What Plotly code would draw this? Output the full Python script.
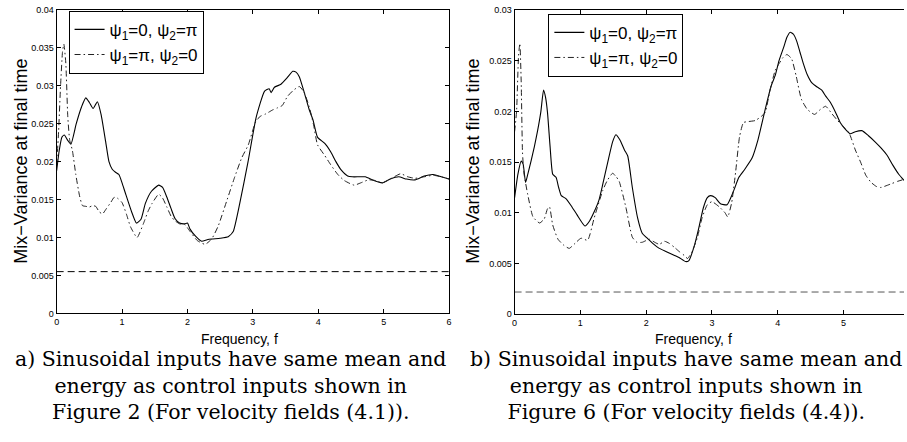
import plotly.graph_objects as go

# ---------------- data ----------------
# Panel a) velocity fields (4.1)
a_solid_f = [0.0, 0.04, 0.08, 0.117, 0.17, 0.218, 0.3, 0.38, 0.445, 0.5, 0.557, 0.623, 0.68, 0.75, 0.8,
             0.85, 0.9, 0.952, 1.0, 1.053, 1.15, 1.22, 1.29, 1.357, 1.45, 1.56, 1.62, 1.686, 1.75, 1.81,
             1.88, 1.96, 2.0, 2.04, 2.12, 2.218, 2.3, 2.37, 2.5, 2.624, 2.7, 2.8, 2.927, 3.05, 3.18,
             3.25, 3.28, 3.33, 3.43, 3.52, 3.61, 3.66, 3.71, 3.78, 3.86, 3.92, 3.99, 4.1, 4.19, 4.27,
             4.35, 4.45, 4.52, 4.62, 4.72, 4.85, 4.98, 5.1, 5.23, 5.35, 5.48, 5.62, 5.76, 5.88, 6.0]
a_solid_v = [0.0188, 0.0215, 0.0232, 0.0235, 0.0228, 0.0223, 0.0250, 0.0272, 0.0284, 0.0278, 0.0270, 0.0279,
             0.0262, 0.0226, 0.0200, 0.0190, 0.0186, 0.0183, 0.0172, 0.0158, 0.0133, 0.0119, 0.0124, 0.0145,
             0.0161, 0.0169, 0.0166, 0.0153, 0.0138, 0.0125, 0.0119, 0.0118, 0.0119, 0.0111, 0.0102, 0.0095,
             0.0097, 0.0098, 0.0099, 0.0101, 0.0108, 0.0145, 0.0200, 0.0258, 0.0293, 0.0296, 0.0291, 0.0298,
             0.0302, 0.0310, 0.0319, 0.0318, 0.0312, 0.0293, 0.0269, 0.0255, 0.0232, 0.0224, 0.0213, 0.0200,
             0.0189, 0.0181, 0.0180, 0.0180, 0.0180, 0.0175, 0.0172, 0.0177, 0.0180, 0.0177, 0.0176, 0.0181,
             0.0183, 0.0180, 0.0177]

a_dash_f = [0.0, 0.03, 0.06, 0.09, 0.11, 0.14, 0.17, 0.2, 0.24, 0.293, 0.35, 0.395, 0.45, 0.497, 0.55,
            0.598, 0.65, 0.70, 0.76, 0.826, 0.88, 0.927, 1.0, 1.07, 1.13, 1.23, 1.33, 1.4, 1.46, 1.56,
            1.62, 1.686, 1.75, 1.81, 1.88, 1.96, 2.04, 2.15, 2.27, 2.37, 2.47, 2.6, 2.72, 2.83, 2.93,
            3.05, 3.12, 3.2, 3.3, 3.38, 3.45, 3.53, 3.62, 3.71, 3.78, 3.86, 3.93, 3.99, 4.1, 4.19,
            4.3, 4.4, 4.55, 4.65, 4.77, 4.88, 4.98, 5.1, 5.26, 5.37, 5.48, 5.62, 5.76, 5.88, 6.0]
a_dash_v = [0.0195, 0.0240, 0.0300, 0.0345, 0.0355, 0.0330, 0.0260, 0.0228, 0.0215, 0.0183, 0.0155, 0.0142,
            0.0141, 0.0140, 0.0142, 0.0141, 0.0134, 0.0131, 0.0138, 0.0146, 0.0153, 0.0152, 0.0146, 0.0130,
            0.0114, 0.0100, 0.0119, 0.0135, 0.0145, 0.0157, 0.0152, 0.0140, 0.0128, 0.0122, 0.0118, 0.0117,
            0.0108, 0.0096, 0.0091, 0.0098, 0.0115, 0.0148, 0.0179, 0.0205, 0.0222, 0.0254, 0.0260, 0.0263,
            0.0268, 0.0271, 0.0274, 0.0286, 0.0294, 0.0299, 0.0292, 0.0273, 0.0248, 0.0222, 0.0208, 0.0196,
            0.0183, 0.0175, 0.0169, 0.0172, 0.0176, 0.0175, 0.0172, 0.0177, 0.0184, 0.0180, 0.0178, 0.0180,
            0.0182, 0.0180, 0.0177]

a_base_f = [0.0, 6.0]
a_base_v = [0.0055, 0.0055]

# Panel b) velocity fields (4.4)
b_solid_f = [0.0, 0.05, 0.1, 0.13, 0.167, 0.2, 0.25, 0.3, 0.35, 0.4, 0.44, 0.47, 0.5, 0.54, 0.58, 0.63,
             0.67, 0.71, 0.78, 0.86, 0.95, 1.07, 1.14, 1.21, 1.28, 1.34, 1.42, 1.49, 1.54, 1.6, 1.67,
             1.72, 1.79, 1.87, 1.94, 2.0, 2.1, 2.2, 2.3, 2.4, 2.5, 2.6, 2.65, 2.73, 2.8, 2.87, 2.93,
             2.98, 3.05, 3.13, 3.23, 3.32, 3.41, 3.5, 3.61, 3.7, 3.81, 3.9, 3.965, 4.02, 4.09, 4.14,
             4.19, 4.24, 4.29, 4.34, 4.39, 4.45, 4.52, 4.6, 4.67, 4.73, 4.8, 4.88, 4.95, 5.02, 5.1,
             5.18, 5.28, 5.38, 5.48, 5.57, 5.66, 5.75, 5.84, 5.92]
b_solid_v = [0.0115, 0.0138, 0.0151, 0.0148, 0.0130, 0.0138, 0.0151, 0.0165, 0.0181, 0.0200, 0.0221, 0.0214,
             0.0199, 0.0165, 0.0138, 0.0135, 0.0125, 0.0117, 0.0114, 0.0107, 0.0098, 0.0087, 0.0092, 0.0101,
             0.0112, 0.0128, 0.0151, 0.0170, 0.0177, 0.0172, 0.0162, 0.0156, 0.0125, 0.0095, 0.0080, 0.0076,
             0.0070, 0.0065, 0.0062, 0.0059, 0.0056, 0.0052, 0.0053, 0.0067, 0.0085, 0.0105, 0.0115, 0.0117,
             0.0115, 0.0109, 0.0108, 0.0120, 0.0135, 0.0143, 0.0154, 0.0172, 0.0202, 0.0225, 0.0236, 0.0250,
             0.0263, 0.0273, 0.0278, 0.0276, 0.0269, 0.0258, 0.0247, 0.0236, 0.0228, 0.0224, 0.0221, 0.0215,
             0.0209, 0.0199, 0.0189, 0.0183, 0.0178, 0.0180, 0.0181, 0.0176, 0.0170, 0.0164, 0.0157, 0.0147,
             0.0138, 0.0132]

b_dash_f = [0.0, 0.03, 0.06, 0.08, 0.1, 0.12, 0.14, 0.16, 0.2, 0.28, 0.38, 0.45, 0.5, 0.53, 0.58, 0.66,
            0.75, 0.83, 0.92, 1.01, 1.11, 1.21, 1.34, 1.41, 1.49, 1.54, 1.59, 1.69, 1.79, 1.86, 1.94,
            2.05, 2.13, 2.2, 2.28, 2.35, 2.43, 2.5, 2.58, 2.63, 2.7, 2.78, 2.85, 2.93, 3.0, 3.11, 3.2,
            3.24, 3.3, 3.36, 3.42, 3.48, 3.56, 3.66, 3.75, 3.81, 3.88, 3.96, 4.02, 4.08, 4.14, 4.21,
            4.28, 4.36, 4.45, 4.56, 4.65, 4.73, 4.82, 4.91, 5.0, 5.09, 5.18, 5.26, 5.34, 5.42, 5.5,
            5.57, 5.66, 5.74, 5.82, 5.92]
b_dash_v = [0.0180, 0.0200, 0.0255, 0.0267, 0.0230, 0.0160, 0.0140, 0.0132, 0.0118, 0.0096, 0.0090, 0.0094,
            0.0104, 0.0106, 0.0088, 0.0074, 0.0068, 0.0065, 0.0070, 0.0075, 0.0073, 0.0095, 0.0122, 0.0132,
            0.0139, 0.0136, 0.0131, 0.0106, 0.0076, 0.0071, 0.0071, 0.0074, 0.0071, 0.0069, 0.0072, 0.0070,
            0.0066, 0.0062, 0.0058, 0.0055, 0.0062, 0.0076, 0.0095, 0.0108, 0.0111, 0.0106, 0.0100, 0.0096,
            0.0110, 0.0140, 0.0175, 0.0189, 0.0190, 0.0191, 0.0195, 0.0199, 0.0220, 0.0240, 0.0247, 0.0253,
            0.0256, 0.0252, 0.0235, 0.0212, 0.0202, 0.0197, 0.0202, 0.0205, 0.0198, 0.0191, 0.0185, 0.0178,
            0.0162, 0.0150, 0.0137, 0.0130, 0.0126, 0.0125, 0.0127, 0.0129, 0.0131, 0.0133]

b_base_f = [0.0, 5.92]
b_base_v = [0.0022, 0.0022]

a_xticks = [0, 1, 2, 3, 4, 5, 6]
a_yticks = [0, 0.005, 0.01, 0.015, 0.02, 0.025, 0.03, 0.035, 0.04]
a_yticktext = ["0", "0.005", "0.01", "0.015", "0.02", "0.025", "0.03", "0.035", "0.04"]
b_xticks = [0, 1, 2, 3, 4, 5]
b_yticks = [0, 0.005, 0.01, 0.015, 0.02, 0.025, 0.03]
b_yticktext = ["0", "0.005", "0.01", "0.015", "0.02", "0.025", "0.03"]

name1 = "ψ<sub>1</sub>=0, ψ<sub>2</sub>=π"
name2 = "ψ<sub>1</sub>=π, ψ<sub>2</sub>=0"
ytitle = "Mix−Variance at final time"
xtitle = "Frequency, f"
cap_a = ["a) Sinusoidal inputs have same mean and",
         "energy as control inputs shown in",
         "Figure 2 (For velocity fields (4.1))."]
cap_b = ["b) Sinusoidal inputs have same mean and",
         "energy as control inputs shown in",
         "Figure 6 (For velocity fields (4.4))."]

# ---------------- figure ----------------
W, H = 907, 442
SANS = "Liberation Sans, Arial, sans-serif"
SERIF = "DejaVu Serif, Liberation Serif, serif"
DASHDOT = "6px,3px,1.5px,3px"
EPS = 1e-7

fig = go.Figure()

line_solid = dict(color="black", width=1.1, shape="spline", smoothing=0.5)
line_dd = dict(color="#222", width=1, dash=DASHDOT, shape="spline", smoothing=0.5)

fig.add_trace(go.Scatter(x=a_solid_f, y=a_solid_v, mode="lines", line=line_solid, name=name1,
                         xaxis="x", yaxis="y", legend="legend"))
fig.add_trace(go.Scatter(x=a_dash_f, y=a_dash_v, mode="lines", line=line_dd, name=name2,
                         xaxis="x", yaxis="y", legend="legend"))
fig.add_trace(go.Scatter(x=a_base_f, y=a_base_v, mode="lines", showlegend=False,
                         line=dict(color="black", width=1, dash="7px,4px"), xaxis="x", yaxis="y"))

fig.add_trace(go.Scatter(x=b_solid_f, y=b_solid_v, mode="lines", line=line_solid, name=name1,
                         xaxis="x2", yaxis="y2", legend="legend2"))
fig.add_trace(go.Scatter(x=b_dash_f, y=b_dash_v, mode="lines", line=line_dd, name=name2,
                         xaxis="x2", yaxis="y2", legend="legend2"))
fig.add_trace(go.Scatter(x=b_base_f, y=b_base_v, mode="lines", showlegend=False,
                         line=dict(color="#555", width=1, dash="7px,4px"), xaxis="x2", yaxis="y2"))

def px(x):
    return x / W

def py(y):
    return 1 - y / H

tickfont = dict(family=SANS, size=9, color="black")
axis_common = dict(showgrid=False, zeroline=False, showline=True, linecolor="black", linewidth=1,
                   ticks="inside", ticklen=4, tickcolor="black", tickfont=tickfont)

fig.update_layout(
    width=W, height=H,
    margin=dict(l=0, r=0, t=0, b=0),
    paper_bgcolor="white", plot_bgcolor="white",
    xaxis=dict(domain=[px(54), px(449)], range=[0, 6 + 1e-5], tickvals=a_xticks, anchor="y",
               mirror="ticks", **axis_common),
    yaxis=dict(domain=[py(315.5), py(5)], range=[0, 0.04 + EPS], tickvals=a_yticks, ticktext=a_yticktext,
               anchor="x", mirror="ticks", **axis_common),
    xaxis2=dict(domain=[px(515), 1.0], range=[0, 5.92], tickvals=b_xticks, anchor="y2",
                mirror="ticks", **axis_common),
    yaxis2=dict(domain=[py(316.5), py(5)], range=[0, 0.03 + EPS], tickvals=b_yticks, ticktext=b_yticktext,
                anchor="x2", mirror=False, **axis_common),
    legend=dict(x=px(66), y=py(6), xanchor="left", yanchor="top", bgcolor="white",
                bordercolor="black", borderwidth=1, font=dict(family=SANS, size=17, color="black"),
                tracegroupgap=0, itemwidth=30),
    legend2=dict(x=px(549), y=py(9), xanchor="left", yanchor="top", bgcolor="white",
                 bordercolor="black", borderwidth=1, font=dict(family=SANS, size=17, color="black"),
                 tracegroupgap=0, itemwidth=30),
    showlegend=True,
)

ann = []
for xc in (18.5, 473.5):
    ann.append(dict(text=ytitle, x=px(xc), y=py(160), xref="paper", yref="paper", showarrow=False,
                    textangle=-90, font=dict(family=SANS, size=18, color="black"),
                    xanchor="center", yanchor="middle"))
for xc in (238, 695):
    ann.append(dict(text=xtitle, x=px(xc), y=py(342), xref="paper", yref="paper", showarrow=False,
                    font=dict(family=SANS, size=14, color="black"), xanchor="center", yanchor="middle"))
for xc, cap in ((229, cap_a), (688, cap_b)):
    ann.append(dict(text="<br>".join(cap), x=px(xc), y=py(389), xref="paper", yref="paper",
                    showarrow=False, align="center",
                    font=dict(family=SERIF, size=20.5, color="black"), xanchor="center",
                    yanchor="middle"))
fig.update_layout(annotations=ann)

fig.write_html("out.html")
